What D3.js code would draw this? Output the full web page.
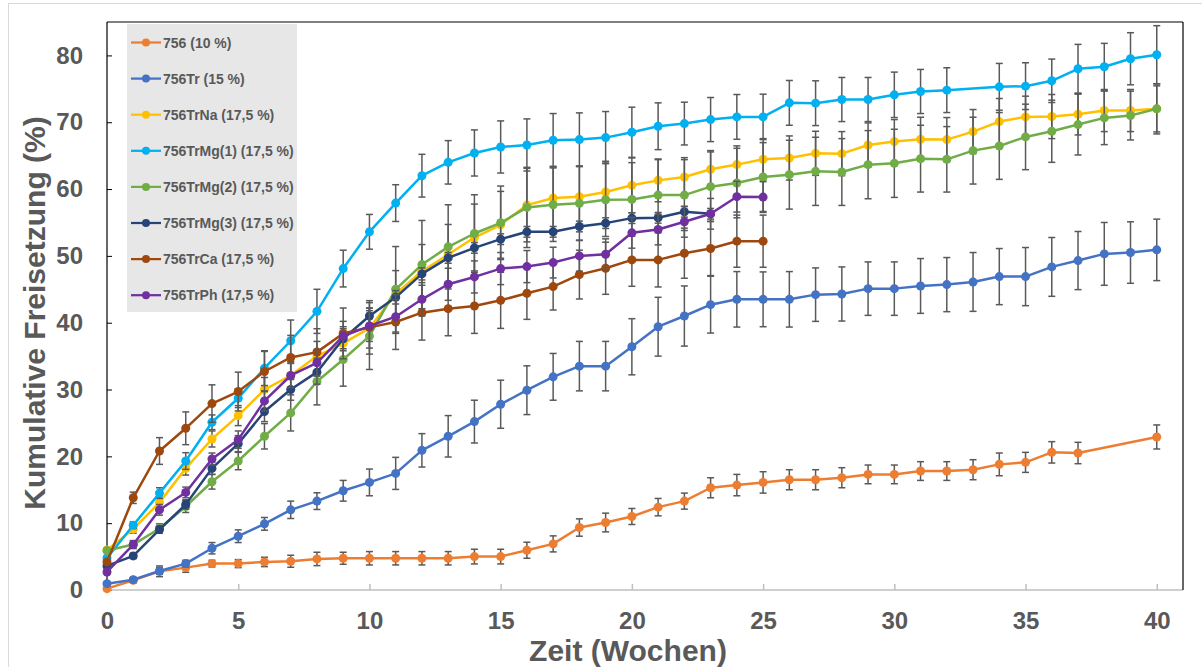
<!DOCTYPE html>
<html><head><meta charset="utf-8">
<script src="https://cdn.jsdelivr.net/npm/d3@7"></script>
<style>
body{margin:0;background:#fff;}
text{font-family:"Liberation Sans",Arial,sans-serif;font-weight:bold;}
</style>
</head><body><svg id="c" width="1202" height="667"></svg>
<script>
const weeks = [0,1,2,3,4,5,6,7,8,9,10,11,12,13,14,15,16,17,18,19,20,21,22,23,24,25,26,27,28,29,30,31,32,33,34,35,36,37,38,39,40];
const xTicks = [0,5,10,15,20,25,30,35,40];
const yTicks = [0,10,20,30,40,50,60,70,80];

const names = ["756 (10 %)","756Tr (15 %)","756TrNa (17,5 %)","756TrMg(1) (17,5 %)","756TrMg(2) (17,5 %)","756TrMg(3) (17,5 %)","756TrCa (17,5 %)","756TrPh (17,5 %)"];
const colors = ["#ED7D31","#4472C4","#FFC000","#00B0F0","#70AD47","#264478","#9E480E","#7030A0"];

const v756 = [0.2,1.45,2.8,3.35,3.95,3.95,4.2,4.3,4.65,4.75,4.75,4.75,4.75,4.75,5.0,5.0,5.95,6.9,9.35,10.1,11.0,12.4,13.3,15.3,15.7,16.1,16.5,16.5,16.8,17.3,17.3,17.8,17.8,18.0,18.8,19.1,20.6,20.5,null,null,22.9];
const e756 = [0.2,0.4,0.8,0.7,0.5,0.6,0.7,0.9,1.0,0.9,1.0,1.0,1.0,1.0,1.1,1.1,1.2,1.2,1.3,1.4,1.2,1.3,1.2,1.5,1.6,1.6,1.5,1.5,1.5,1.4,1.4,1.4,1.4,1.5,1.7,1.5,1.6,1.6,null,null,1.8];

const vTr = [0.95,1.55,2.85,3.95,6.25,8.05,9.9,12.0,13.3,14.85,16.1,17.45,20.9,23.0,25.2,27.8,29.9,31.9,33.5,33.5,36.4,39.4,41.0,42.7,43.5,43.5,43.5,44.2,44.3,45.1,45.1,45.5,45.7,46.1,46.9,46.9,48.35,49.3,50.3,50.5,50.9];
const eTr = [0.2,0.3,0.5,0.5,0.85,0.95,0.95,1.3,1.25,1.55,2.0,2.4,2.5,3.1,3.2,3.6,3.65,3.5,3.7,3.7,4.2,4.4,4.5,4.25,4.15,4.1,4.15,4.0,4.05,4.0,4.0,4.1,4.05,4.4,4.2,4.35,4.4,4.35,4.7,4.6,4.6];

const vNa = [6.0,9.1,13.1,18.2,22.6,26.1,30.0,32.1,35.0,36.9,39.2,44.3,47.7,50.2,52.75,54.65,57.6,58.66,58.86,59.56,60.56,61.3,61.8,62.96,63.66,64.45,64.65,65.35,65.3,66.6,67.1,67.45,67.4,68.6,70.1,70.8,70.85,71.2,71.75,71.75,72.0];
const eNa = [0.3,0.6,0.8,1.0,1.2,1.5,1.8,2.0,2.2,2.5,3.0,3.5,4.0,4.5,5.0,5.0,5.5,4.75,4.6,4.6,4.1,3.2,2.9,2.8,2.8,3.1,3.3,3.3,3.3,3.3,3.3,3.3,3.3,3.3,3.45,3.1,3.3,3.1,3.15,3.15,3.75];

const vMg1 = [4.8,9.7,14.5,19.3,25.1,28.7,33.2,37.3,41.7,48.1,53.6,57.9,62.0,64.0,65.4,66.3,66.6,67.3,67.4,67.7,68.5,69.4,69.8,70.4,70.8,70.8,72.9,72.85,73.4,73.4,74.1,74.6,74.8,null,75.3,75.4,76.2,78.0,78.3,79.5,80.1];
const eMg1 = [0.3,0.5,0.8,1.25,1.1,1.4,2.6,3.1,3.3,2.75,2.6,2.75,3.2,3.25,3.45,3.9,3.9,4.0,4.0,3.9,3.75,3.5,3.2,3.3,3.35,3.4,3.35,3.35,3.3,3.3,3.4,3.3,3.35,null,3.5,3.5,3.25,3.65,3.5,3.9,4.35];

const vMg2 = [5.9,6.8,9.2,12.5,16.2,19.3,23.0,26.5,31.2,34.5,38.0,45.0,48.7,51.35,53.35,54.95,57.25,57.66,57.86,58.4,58.45,59.1,59.1,60.36,60.9,61.8,62.15,62.65,62.55,63.65,63.85,64.55,64.45,65.75,66.45,67.8,68.65,69.65,70.65,71.0,72.0];
const eMg2 = [0.3,0.5,0.7,0.9,1.1,1.3,1.9,2.7,3.5,4.0,5.0,6.4,6.6,6.3,5.8,5.5,6.0,5.5,5.5,5.5,5.5,5.3,5.3,5.2,5.2,5.15,5.15,5.1,5.0,5.1,5.1,5.0,4.9,5.0,5.0,4.9,4.65,4.55,4.0,3.65,3.45];

const vMg3 = [3.6,5.1,9.05,12.8,18.2,21.9,26.7,30.0,32.6,37.6,41.0,43.8,47.3,49.7,51.2,52.5,53.6,53.6,54.4,54.9,55.65,55.7,56.6,56.3];
const eMg3 = [0.3,0.4,0.5,0.7,0.9,1.2,1.5,1.6,1.8,1.5,1.2,1.0,0.9,0.8,0.8,0.8,0.8,0.8,0.8,0.8,0.8,0.8,0.8,0.8];

const vCa = [4.2,13.8,20.8,24.2,27.9,29.7,32.7,34.8,35.6,38.4,39.3,40.1,41.5,42.1,42.5,43.35,44.4,45.4,47.2,48.15,49.4,49.4,50.4,51.1,52.2,52.2];
const eCa = [0.3,0.85,2.0,2.45,2.8,2.9,3.0,3.3,3.5,3.8,4.0,4.1,4.1,4.05,4.1,4.2,3.9,3.5,3.65,3.9,3.95,4.05,3.75,4.05,3.9,3.9];

const vPh = [2.7,6.8,12.0,14.6,19.6,22.5,28.3,32.1,34.0,38.0,39.5,40.9,43.5,45.75,46.85,48.1,48.4,49.0,50.0,50.25,53.45,53.95,55.1,56.3,58.86,58.8];
const ePh = [0.3,0.6,0.8,0.8,0.9,1.3,1.5,1.8,2.0,2.2,2.3,2.5,2.5,2.4,2.4,2.4,2.4,2.3,2.3,2.3,2.3,2.3,2.3,2.3,2.3,2.3];

const seriesValues = [v756, vTr, vNa, vMg1, vMg2, vMg3, vCa, vPh];
const seriesErrors = [e756, eTr, eNa, eMg1, eMg2, eMg3, eCa, ePh];

const svg = d3.select("#c");
const L = 107, R = 1183, T = 22, B = 590;
const x = d3.scaleLinear().domain([0, 41]).range([L, R]);
const y = d3.scaleLinear().domain([0, 85]).range([B, T]);

// outer frame
svg.append("rect").attr("x", 8.5).attr("y", 3.5).attr("width", 1210).attr("height", 700)
  .attr("fill", "#fff").attr("stroke", "#d9d9d9").attr("stroke-width", 1);

// axes
const yAxis = d3.axisLeft(y).tickValues(yTicks).tickSizeInner(-5).tickSizeOuter(0).tickPadding(24);
const gy = svg.append("g").attr("transform", `translate(${L},0)`).call(yAxis);
gy.select(".domain").remove();
gy.selectAll("line").attr("stroke", "#000").attr("stroke-width", 1);
gy.selectAll("text").attr("font-size", 24).attr("fill", "#595959").attr("font-family", "Liberation Sans, Arial, sans-serif").attr("font-weight", "bold");

const xAxis = d3.axisBottom(x).tickValues(xTicks).tickSizeInner(-6).tickSizeOuter(0).tickPadding(22);
const gx = svg.append("g").attr("transform", `translate(0,${B})`).call(xAxis);
gx.select(".domain").remove();
gx.selectAll("line").attr("stroke", "#bfbfbf").attr("stroke-width", 1.5);
gx.selectAll("text").attr("font-size", 24).attr("fill", "#595959").attr("font-family", "Liberation Sans, Arial, sans-serif").attr("font-weight", "bold");

// frame lines
svg.append("line").attr("x1", L).attr("x2", R).attr("y1", B).attr("y2", B).attr("stroke", "#bfbfbf").attr("stroke-width", 1.5);
svg.append("line").attr("x1", L).attr("x2", L).attr("y1", T).attr("y2", B).attr("stroke", "#000").attr("stroke-width", 1.2);
svg.append("line").attr("x1", L).attr("x2", R).attr("y1", T).attr("y2", T).attr("stroke", "#000").attr("stroke-width", 1.2);
svg.append("line").attr("x1", R).attr("x2", R).attr("y1", T).attr("y2", B).attr("stroke", "#000").attr("stroke-width", 1.2);

// titles
svg.append("text").attr("transform", "translate(45,313) rotate(-90)").attr("text-anchor", "middle")
  .attr("font-size", 30).attr("fill", "#595959").text("Kumulative Freisetzung (%)");
svg.append("text").attr("x", 628).attr("y", 661).attr("text-anchor", "middle")
  .attr("font-size", 30).attr("fill", "#595959").text("Zeit (Wochen)");

// legend
const lg = svg.append("g");
lg.append("rect").attr("x", 127).attr("y", 24).attr("width", 170).attr("height", 288).attr("fill", "#e7e7e7");
names.forEach((n, i) => {
  const yy = 42.5 + i * 36.1;
  lg.append("line").attr("x1", 131).attr("x2", 161).attr("y1", yy).attr("y2", yy).attr("stroke", colors[i]).attr("stroke-width", 2.25);
  lg.append("circle").attr("cx", 146).attr("cy", yy).attr("r", 4).attr("fill", colors[i]);
  lg.append("text").attr("x", 163).attr("y", yy + 5).attr("font-size", 14).attr("fill", "#595959").text(n);
});

// series
const plot = svg.append("g");
seriesValues.forEach((vals, si) => {
  const errs = seriesErrors[si];
  const pts = vals.map((v, i) => ({ w: weeks[i], v: v, e: errs[i] })).filter(d => d.v !== null);
  const g = plot.append("g");
  const eb = g.append("g").attr("stroke", "#595959").attr("stroke-width", 1.5);
  pts.forEach(d => {
    const cx = x(d.w);
    eb.append("line").attr("x1", cx).attr("x2", cx).attr("y1", y(d.v - d.e)).attr("y2", y(d.v + d.e));
    eb.append("line").attr("x1", cx - 3.5).attr("x2", cx + 3.5).attr("y1", y(d.v - d.e)).attr("y2", y(d.v - d.e));
    eb.append("line").attr("x1", cx - 3.5).attr("x2", cx + 3.5).attr("y1", y(d.v + d.e)).attr("y2", y(d.v + d.e));
  });
  const line = d3.line().x(d => x(d.w)).y(d => y(d.v));
  g.append("path").datum(pts).attr("d", line).attr("fill", "none").attr("stroke", colors[si]).attr("stroke-width", 2.5).attr("stroke-linejoin", "round");
  g.selectAll("circle").data(pts).join("circle").attr("cx", d => x(d.w)).attr("cy", d => y(d.v)).attr("r", 4.5).attr("fill", colors[si]);
});
</script>
</body></html>
